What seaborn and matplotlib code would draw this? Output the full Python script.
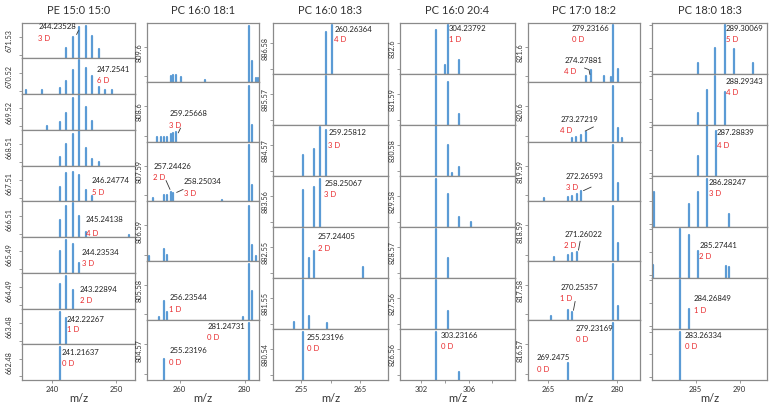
import matplotlib
matplotlib.use("Agg")
import matplotlib.pyplot as plt
import pandas as pd
import seaborn as sns

# ---------------- data ----------------
TITLES = ["PE 15:0 15:0", "PC 16:0 18:1", "PC 16:0 18:3",
          "PC 16:0 20:4", "PC 17:0 18:2", "PC 18:0 18:3"]

C1_ROWS = ["671.53", "670.52", "669.52", "668.51", "667.51",
           "666.51", "665.49", "664.49", "663.48", "662.48"]
C1_PEAKS = [
    [(242.23, .30), (243.23, .59), (244.24, .89), (245.24, .91), (246.25, .64), (247.25, .27)],
    [(236.0, .12), (238.4, .12), (241.22, .17), (242.23, .36), (243.23, .67), (244.24, .95),
     (245.24, .73), (246.25, .50), (247.25, .19), (248.26, .11), (249.26, .11)],
    [(239.2, .11), (241.22, .22), (242.23, .46), (243.23, .89), (244.24, .97), (245.24, .65), (246.25, .26)],
    [(241.22, .25), (242.23, .61), (243.23, .89), (244.24, .97), (245.24, .50), (246.25, .19), (247.25, .11)],
    [(241.22, .41), (242.23, .78), (243.23, .83), (244.24, .74), (245.24, .33), (246.25, .14)],
    [(241.22, .49), (242.23, .88), (243.23, .95), (244.24, .58), (245.24, .14), (251.9, .07)],
    [(241.22, .61), (242.23, .91), (243.23, .81), (244.24, .28)],
    [(241.22, .70), (242.23, .92), (243.23, .51)],
    [(241.22, .91), (242.23, .73)],
    [(241.22, .91)],
]
C1_NOTES = [(0, "244.23528", "3 D"), (1, "247.2541", "6 D"), (4, "246.24774", "5 D"),
            (5, "245.24138", "4 D"), (6, "244.23534", "3 D"), (7, "243.22894", "2 D"),
            (8, "242.22267", "1 D"), (9, "241.21637", "0 D")]

C2_ROWS = ["809.6", "808.6", "807.59", "806.59", "805.58", "804.57"]
C2_PEAKS = [
    [(257.27, .11), (258.07, .13), (258.8, .13), (260.3, .08), (267.8, .04),
     (281.25, .94), (282.35, .35), (283.36, .07), (284.2, .07)],
    [(253.0, .08), (254.22, .08), (255.23, .08), (256.24, .08), (257.27, .13), (258.07, .15),
     (258.8, .17), (281.25, .94), (282.35, .29)],
    [(251.96, .06), (255.23, .10), (256.24, .11), (257.27, .16), (258.07, .14), (272.9, .03),
     (281.25, .94), (282.35, .27)],
    [(250.7, .08), (255.23, .20), (256.24, .10), (281.25, .93), (282.35, .27), (283.36, .08)],
    [(253.8, .06), (255.23, .32), (256.24, .15), (279.5, .06), (281.25, .95), (282.35, .49)],
    [(255.23, .36), (281.25, .96)],
]
C2_NOTES = [(1, "259.25668", "3 D"), (2, "257.24426", "2 D"), (2, "258.25034", "3 D"),
            (4, "256.23544", "1 D"), (5, "281.24731", "0 D"), (5, "255.23196", "0 D")]

C3_ROWS = ["886.58", "885.57", "884.57", "883.56", "882.55", "881.55", "880.54"]
C3_PEAKS = [
    [(259.2, .82), (260.26, .95)],
    [(259.2, .96)],
    [(255.23, .40), (257.2, .52), (258.2, .95), (259.2, .89)],
    [(255.23, .72), (257.2, .79), (258.2, .94)],
    [(255.23, .95), (256.25, .39), (257.2, .53), (265.4, .22)],
    [(253.8, .13), (255.23, .95), (256.25, .26), (259.3, .11)],
    [(255.23, .95)],
]
C3_NOTES = [(0, "260.26364", "4 D"), (2, "259.25812", "3 D"), (3, "258.25067", "3 D"),
            (4, "257.24405", "2 D"), (6, "255.23196", "0 D")]

C4_ROWS = ["832.6", "831.59", "830.58", "829.58", "828.57", "827.56", "826.56"]
C4_PEAKS = [
    [(303.23, .86), (304.0, .18), (304.24, .95), (305.2, .26)],
    [(303.23, .96), (304.24, .83), (305.2, .21)],
    [(303.23, .97), (304.24, .60), (304.6, .05), (305.2, .17)],
    [(303.23, .94), (304.24, .65), (305.2, .19), (306.15, .10)],
    [(303.23, .95), (304.24, .39)],
    [(303.23, .95), (304.24, .36)],
    [(303.23, .95), (305.2, .16)],
]
C4_NOTES = [(0, "304.23792", "1 D"), (6, "303.23166", "0 D")]

C5_ROWS = ["821.6", "820.6", "819.59", "818.59", "817.58", "816.57"]
C5_PEAKS = [
    [(273.2, .11), (274.37, .20), (277.1, .10), (278.8, .08), (279.23, .96), (280.37, .23)],
    [(270.26, .07), (271.0, .08), (272.17, .11), (273.2, .16), (279.23, .94), (280.37, .23), (281.25, .07)],
    [(264.1, .06), (269.25, .08), (270.26, .09), (271.23, .13), (272.17, .17), (279.23, .94), (280.37, .31)],
    [(266.3, .07), (269.25, .10), (270.26, .14), (271.23, .15), (279.23, .93), (280.37, .30)],
    [(265.6, .08), (269.25, .18), (270.26, .15), (279.23, .95), (280.37, .24)],
    [(269.25, .28), (279.23, .96)],
]
C5_NOTES = [(0, "279.23166", "0 D"), (0, "274.27881", "4 D"), (1, "273.27219", "4 D"),
            (2, "272.26593", "3 D"), (3, "271.26022", "2 D"), (4, "270.25357", "1 D"),
            (5, "279.23169", "0 D"), (5, "269.2475", "0 D")]

C6_ROWS = ["", "", "", "", "", "", ""]
C6_PEAKS = [
    [(285.3, .22), (287.25, .50), (288.28, .95), (289.3, .48), (291.5, .22)],
    [(285.3, .24), (286.28, .69), (287.25, .96), (288.28, .64)],
    [(285.3, .38), (286.28, .97), (287.3, .88)],
    [(280.24, .69), (284.28, .44), (285.27, .69), (286.28, .93), (288.81, .25)],
    [(280.12, .26), (283.26, .95), (284.28, .85), (285.27, .52), (288.47, .24), (288.81, .22)],
    [(283.26, .95), (284.28, .39)],
    [(283.26, .95)],
]
C6_NOTES = [(0, "289.30069", "5 D"), (1, "288.29343", "4 D"), (2, "287.28839", "4 D"),
            (3, "286.28247", "3 D"), (4, "285.27441", "2 D"), (5, "284.26849", "1 D"),
            (6, "283.26334", "0 D")]

X_TICKS = [[240, 250], [260, 280], [255, 265], [302, 306], [265, 280], [285, 290]]

# ---------------- layout (positions / styles) ----------------
COL_PX = [(22, 135), (147, 259), (273, 388), (400, 515), (528, 640), (652, 767)]
XLIMS = [(235.3, 252.9), (250.0, 284.4), (250.2, 269.7), (300.2, 309.9), (260.5, 285.1), (280.05, 293.1)]
MINOR_TICKS = [[], [], [260], [304, 308], [], []]
YLABEL_PAD = [4.5, 0.5, 0.5, 0.5, 0.5, 0.5]
# text anchor (x, y of number, y of "n D") per note
NOTE_POS = [
    [(237.84, .88, .57), (246.93, .70, .39), (246.15, .57, .25), (245.26, .49, .09),
     (244.6, .58, .26), (244.33, .54, .23), (242.26, .68, .41), (241.48, .77, .45)],
    [(256.86, .47, .28), (251.96, .59, .40), (261.35, .34, .14), (256.86, .38, .18),
     (268.5, .90, .71), (256.86, .49, .29)],
    [(260.59, .87, .68), (259.57, .85, .60), (258.89, .85, .63), (257.77, .82, .57), (255.91, .84, .61)],
    [(304.35, .89, .68), (303.62, .88, .66)],
    [(270.13, .90, .72), (268.5, .37, .18), (267.56, .37, .19), (268.81, .42, .23),
     (268.5, .44, .26), (267.56, .55, .37), (271.01, .86, .68), (262.44, .37, .18)],
    [(288.43, .89, .68), (288.43, .85, .63), (287.42, .85, .60), (286.47, .86, .66),
     (285.41, .63, .41), (284.77, .59, .37), (283.75, .88, .66)],
]
LEADERS = [
    (0, 0, [(243.8, .67), (244.1, .78)]),
    (1, 1, [(259.6, .15), (260.3, .23)]),
    (1, 2, [(255.84, .35), (257.07, .20)]),
    (1, 2, [(259.1, .15), (261.1, .20)]),
    (4, 0, [(272.9, .24), (273.9, .21), (274.1, .13)]),
    (4, 1, [(273.05, .18), (274.88, .25)]),
    (4, 2, [(272.68, .18), (274.37, .24)]),
    (4, 3, [(271.95, .33), (271.58, .18)]),
    (4, 4, [(270.85, .32), (270.48, .17)]),
]

ROWS = [C1_ROWS, C2_ROWS, C3_ROWS, C4_ROWS, C5_ROWS, C6_ROWS]
PEAKS = [C1_PEAKS, C2_PEAKS, C3_PEAKS, C4_PEAKS, C5_PEAKS, C6_PEAKS]
NOTES = [C1_NOTES, C2_NOTES, C3_NOTES, C4_NOTES, C5_NOTES, C6_NOTES]

BLUE = "#5B9BD5"
RED = "#E8282B"
SPINE = "#8a8a8a"
W, H = 773, 407
TOP_PX, BOT_PX = 22.7, 380.0

sns.set_theme(style="ticks")
plt.rcParams["font.family"] = ["Lato", "DejaVu Sans"]

fig = plt.figure(figsize=(W / 100, H / 100), dpi=100)

axes_grid = []
for c in range(6):
    l_px, r_px = COL_PX[c]
    n = len(ROWS[c])
    h_tot = (BOT_PX - TOP_PX) / H
    h = h_tot / n
    col_axes = []
    for r in range(n):
        bottom = (H - BOT_PX) / H + (n - 1 - r) * h
        ax = fig.add_axes([l_px / W, bottom, (r_px - l_px) / W, h])
        recs = []
        for i, (mz, inten) in enumerate(PEAKS[c][r]):
            recs.append({"mz": mz, "y": 0.0, "pk": i})
            recs.append({"mz": mz, "y": inten, "pk": i})
        df = pd.DataFrame(recs)
        sns.lineplot(data=df, x="mz", y="y", units="pk", estimator=None, sort=False,
                     color=BLUE, linewidth=1.6, ax=ax, legend=False)
        ax.set_xlim(*XLIMS[c])
        ax.set_ylim(0, 1.0)
        ax.set_xlabel("")
        ax.set_ylabel(ROWS[c][r], fontsize=5.2, labelpad=YLABEL_PAD[c], color="#333333")
        for s in ax.spines.values():
            s.set_visible(True)
            s.set_color(SPINE)
            s.set_linewidth(0.9)
        ax.set_yticks([0.05, 0.5, 0.95] if c == 5 else [0.1, 0.6])
        ax.tick_params(axis="y", length=2.5, width=0.6, color=SPINE, labelleft=False)
        last = (r == n - 1)
        ax.set_xticks(X_TICKS[c])
        ax.set_xticks(MINOR_TICKS[c], minor=True)
        ax.tick_params(axis="x", which="both", length=2.5 if last else 0, width=0.6,
                       color=SPINE, labelbottom=last, labelsize=5.5, pad=1.5,
                       labelcolor="#333333")
        if last:
            ax.set_xlabel("m/z", fontsize=8, labelpad=0.5, color="#333333")
        col_axes.append(ax)
    axes_grid.append(col_axes)
    xc = (l_px + r_px) / 2 / W
    fig.text(xc, 1 - 10.5 / H, TITLES[c], ha="center", va="center", fontsize=8, color="#333333")

for c in range(6):
    for k, (r, num, dtxt) in enumerate(NOTES[c]):
        x, yn, yd = NOTE_POS[c][k]
        ax = axes_grid[c][r]
        ax.text(x, yn, num, fontsize=5.6, color="#222222", ha="left", va="center")
        ax.text(x, yd, dtxt, fontsize=5.6, color=RED, ha="left", va="center")

for c, r, pts in LEADERS:
    ax = axes_grid[c][r]
    ax.plot([p[0] for p in pts], [p[1] for p in pts], color="#333333", lw=0.6)

fig.savefig("out.png", dpi=100)
